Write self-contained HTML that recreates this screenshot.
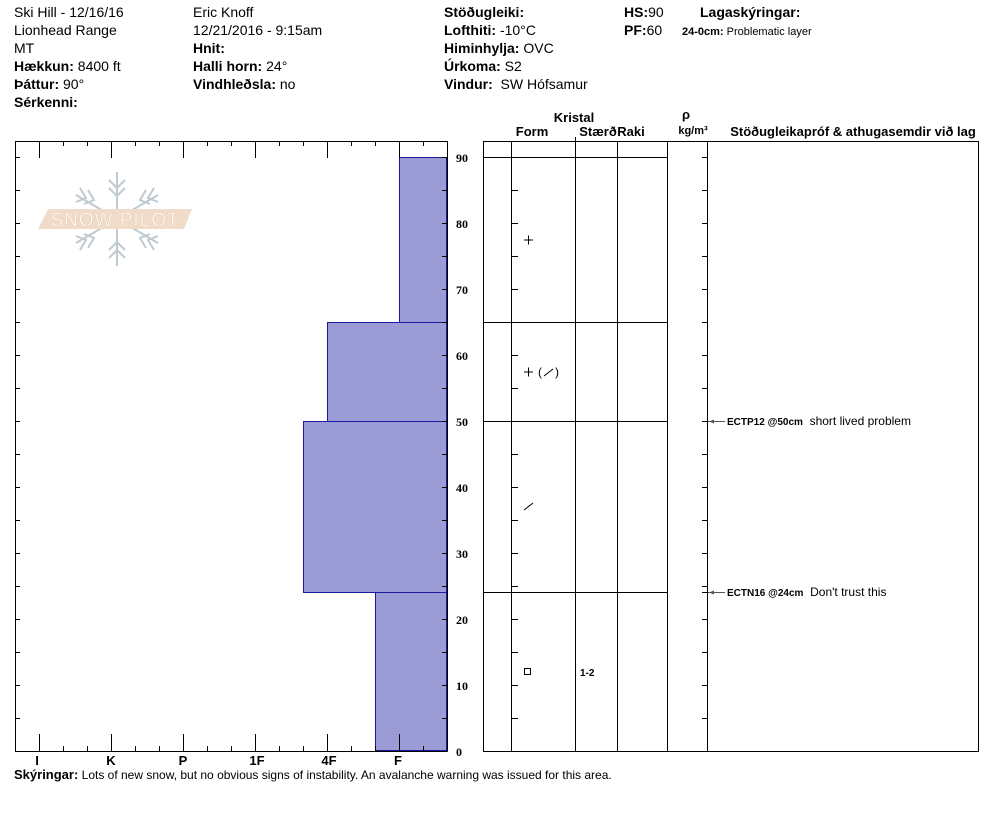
<!DOCTYPE html>
<html><head><meta charset="utf-8"><style>
body{margin:0;background:#fff}
svg{display:block;font-family:"Liberation Sans",Arial,sans-serif}
.h{font-size:14px}
.b{font-weight:bold}
</style></head><body>
<svg width="994" height="840" viewBox="0 0 994 840" xmlns="http://www.w3.org/2000/svg">
<g class="h" fill="#000">
<text x="14" y="17">Ski Hill - 12/16/16</text>
<text x="14" y="35">Lionhead Range</text>
<text x="14" y="53">MT</text>
<text x="14" y="71"><tspan class="b">Hækkun:</tspan> 8400 ft</text>
<text x="14" y="89"><tspan class="b">Þáttur:</tspan> 90°</text>
<text x="14" y="107" class="b">Sérkenni:</text>
<text x="193" y="17">Eric Knoff</text>
<text x="193" y="35">12/21/2016 - 9:15am</text>
<text x="193" y="53" class="b">Hnit:</text>
<text x="193" y="71"><tspan class="b">Halli horn:</tspan> 24°</text>
<text x="193" y="89"><tspan class="b">Vindhleðsla:</tspan> no</text>
<text x="444" y="17" class="b">Stöðugleiki:</text>
<text x="444" y="35"><tspan class="b">Lofthiti:</tspan> -10°C</text>
<text x="444" y="53"><tspan class="b">Himinhylja:</tspan> OVC</text>
<text x="444" y="71"><tspan class="b">Úrkoma:</tspan> S2</text>
<text x="444" y="89" xml:space="preserve"><tspan class="b">Vindur:</tspan>  SW Hófsamur</text>
<text x="624" y="17"><tspan class="b">HS:</tspan>90</text>
<text x="624" y="35"><tspan class="b">PF:</tspan>60</text>
<text x="700" y="17" class="b">Lagaskýringar:</text>
<text x="682" y="35" font-size="11"><tspan class="b">24-0cm:</tspan> Problematic layer</text>
</g>
<!-- logo -->
<g opacity="0.9">
<g stroke="#b8c4cc" stroke-width="2" fill="none">
<line x1="117" y1="172" x2="117" y2="266"/>
<line x1="76" y1="195" x2="158" y2="243"/>
<line x1="76" y1="243" x2="158" y2="195"/>
<path d="M109 180l8 8 8-8M109 188l8 8 8-8M109 258l8-8 8 8M109 250l8-8 8 8"/>
<path d="M80 188l6 10-10 4M88 190l6 10-10 4M154 188l-6 10 10 4M146 190l-6 10 10 4"/>
<path d="M80 250l6-10-10-4M88 248l6-10-10-4M154 250l-6-10 10-4M146 248l-6-10 10-4"/>
</g>
<polygon points="48,209 192,209 184,229 38,229" fill="#f0d8c4"/>
<text x="115" y="226" text-anchor="middle" font-size="19" fill="#fff" stroke="#e8c8ae" stroke-width="0.6" letter-spacing="1">SNOW PILOT</text>
</g>
<!-- left chart -->
<g fill="#9b9bd6" stroke="#1a1aa0" stroke-width="1">
<rect x="399.5" y="157.5" width="47" height="165"/>
<rect x="327.5" y="322.5" width="119" height="99"/>
<rect x="303.5" y="421.5" width="143" height="171"/>
<rect x="375.5" y="592.5" width="71" height="158"/>
</g>
<g stroke="#000" stroke-width="1" fill="none">
<path d="M15.5 141.5H447.5V751.5"/>
<path d="M15 751.5H447.5"/>
<line x1="15.5" y1="141" x2="15.5" y2="751"/>
<path d="M39.5 141v17M111.5 141v17M183.5 141v17M255.5 141v17M327.5 141v17M399.5 141v17
M63.5 141v5M87.5 141v5M135.5 141v5M159.5 141v5M207.5 141v5M231.5 141v5M279.5 141v5M303.5 141v5M351.5 141v5M375.5 141v5M423.5 141v5
M39.5 751v-17M111.5 751v-17M183.5 751v-17M255.5 751v-17M327.5 751v-17M399.5 751v-17
M63.5 751v-5M87.5 751v-5M135.5 751v-5M159.5 751v-5M207.5 751v-5M231.5 751v-5M279.5 751v-5M303.5 751v-5M351.5 751v-5M375.5 751v-5M423.5 751v-5"/>
<path d="M15 157.5h5M15 190.5h5M15 223.5h5M15 256.5h5M15 289.5h5M15 322.5h5M15 355.5h5M15 388.5h5M15 421.5h5M15 454.5h5M15 487.5h5M15 520.5h5M15 553.5h5M15 586.5h5M15 619.5h5M15 652.5h5M15 685.5h5M15 718.5h5
M447 157.5h-5M447 190.5h-5M447 223.5h-5M447 256.5h-5M447 289.5h-5M447 322.5h-5M447 355.5h-5M447 388.5h-5M447 421.5h-5M447 454.5h-5M447 487.5h-5M447 520.5h-5M447 553.5h-5M447 586.5h-5M447 619.5h-5M447 652.5h-5M447 685.5h-5M447 718.5h-5"/>
</g>
<g font-size="13" font-weight="bold" text-anchor="middle">
<text x="37" y="765">I</text><text x="111" y="765">K</text><text x="183" y="765">P</text><text x="257" y="765">1F</text><text x="329" y="765">4F</text><text x="398" y="765">F</text>
</g>
<g font-size="12" font-weight="bold" font-family="Liberation Serif,serif">
<text x="456" y="162">90</text><text x="456" y="228">80</text><text x="456" y="294">70</text><text x="456" y="360">60</text><text x="456" y="426">50</text><text x="456" y="492">40</text><text x="456" y="558">30</text><text x="456" y="624">20</text><text x="456" y="690">10</text><text x="456" y="756">0</text>
</g>
<text x="14" y="779" font-size="12"><tspan font-weight="bold" font-size="13">Skýringar:</tspan> Lots of new snow, but no obvious signs of instability. An avalanche warning was issued for this area.</text>
<!-- right table -->
<g font-size="13" font-weight="bold" text-anchor="middle">
<text x="574" y="122">Kristal</text>
<text x="532" y="136">Form</text>
<text x="598" y="136">Stærð</text>
<text x="631" y="136">Raki</text>
<text x="686" y="119">ρ</text>
<text x="693" y="134" font-size="11">kg/m³</text>
<text x="853" y="136">Stöðugleikapróf &amp; athugasemdir við lag</text>
</g>
<g stroke="#000" stroke-width="1" fill="none">
<path d="M483.5 141.5H978.5V751.5H483.5Z"/>
<path d="M511.5 141v610M575.5 137v614M617.5 141v610M667.5 141v610M707.5 141v610"/>
<path d="M483 157.5H667M483 322.5H667M483 421.5H667M483 592.5H667"/>
<path d="M511 190.5h7M511 223.5h7M511 256.5h7M511 289.5h7M511 355.5h7M511 388.5h7M511 454.5h7M511 487.5h7M511 520.5h7M511 553.5h7M511 586.5h7M511 619.5h7M511 652.5h7M511 685.5h7M511 718.5h7
M707 157.5h-5M707 190.5h-5M707 223.5h-5M707 256.5h-5M707 289.5h-5M707 322.5h-5M707 355.5h-5M707 388.5h-5M707 421.5h-5M707 454.5h-5M707 487.5h-5M707 520.5h-5M707 553.5h-5M707 586.5h-5M707 592.5h-5M707 619.5h-5M707 652.5h-5M707 685.5h-5M707 718.5h-5"/>
<path d="M524 240h9M528.5 235.5v9M524 372h9M528.5 367.5v9M524 510l9-7"/>
<rect x="524.5" y="668.5" width="6" height="6"/>
<path d="M708 421.5h17M708 592.5h17" stroke="#555"/>
</g>
<text x="538" y="376" font-size="12">(</text><path d="M544 376l9-7" stroke="#000"/><text x="555" y="376" font-size="12">)</text>
<path d="M709 421.5l5-2v4z M709 592.5l5-2v4z" fill="#555"/>
<text x="580" y="676" font-size="10" font-weight="bold">1-2</text>
<text x="727" y="425" font-size="12" xml:space="preserve"><tspan font-weight="bold" font-size="10">ECTP12 @50cm</tspan>  short lived problem</text>
<text x="727" y="596" font-size="12" xml:space="preserve"><tspan font-weight="bold" font-size="10">ECTN16 @24cm</tspan>  Don't trust this</text>
</svg>
</body></html>
